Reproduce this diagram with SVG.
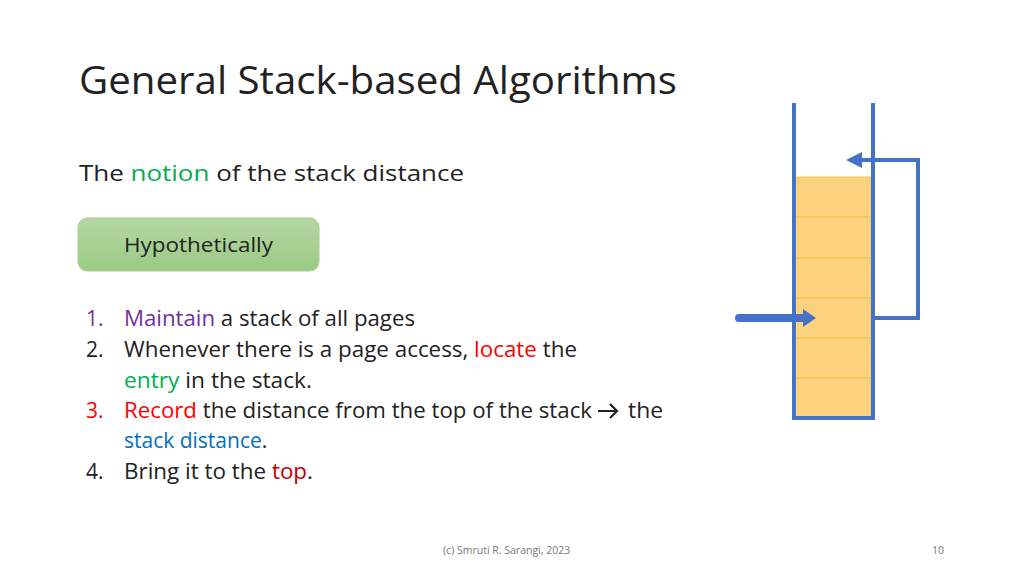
<svg xmlns="http://www.w3.org/2000/svg" width="1024" height="576" viewBox="0 0 1024 576">
<style>
text{font-family:"Open Sans","Liberation Sans",Arial,sans-serif;fill:#222}
.b{font-size:21px}
.wall{stroke:#4472C4;stroke-width:4;fill:none}
.blk{fill:#FDD27E;stroke:#F5C04A;stroke-width:1}
</style>
<defs>
<linearGradient id="g" x1="0" y1="0" x2="0" y2="1"><stop offset="0" stop-color="#B5D7A3"/><stop offset="1" stop-color="#9ACB83"/></linearGradient>
<marker id="ah" markerWidth="4" markerHeight="4" refX="3" refY="2" orient="auto" markerUnits="strokeWidth"><path d="M0,0 L4,2 L0,4 z" fill="#4472C4"/></marker>
</defs>
<rect width="1024" height="576" fill="#fff"/>
<text x="79" y="94" font-size="38" textLength="598" lengthAdjust="spacingAndGlyphs">General Stack-based Algorithms</text>
<text x="79" y="181" class="b" textLength="385" lengthAdjust="spacingAndGlyphs">The <tspan style="fill:#00B050">notion</tspan> of the stack distance</text>
<g id="hypo"><rect x="78" y="218" width="241" height="53" rx="9" fill="url(#g)" stroke="#A8D08D"/>
<text x="124" y="252" font-size="20" textLength="149" lengthAdjust="spacingAndGlyphs">Hypothetically</text></g>
<g class="b">
<text x="86" y="326" style="fill:#7030A0">1.</text><text x="124" y="326" textLength="291" lengthAdjust="spacingAndGlyphs"><tspan style="fill:#7030A0">Maintain</tspan> a stack of all pages</text>
<text x="86" y="357">2.</text><text x="124" y="357" textLength="453" lengthAdjust="spacingAndGlyphs">Whenever there is a page access, <tspan style="fill:#FF0000">locate</tspan> the</text>
<text x="124" y="388" textLength="188" lengthAdjust="spacingAndGlyphs"><tspan style="fill:#00B050">entry</tspan> in the stack.</text>
<text x="86" y="418" style="fill:#FF0000">3.</text><text x="124" y="418" textLength="468" lengthAdjust="spacingAndGlyphs"><tspan style="fill:#FF0000">Record</tspan> the distance from the top of the stack</text>
<text x="628" y="418" textLength="35" lengthAdjust="spacingAndGlyphs">the</text>
<path d="M598,411 h18 M610,404 l7,7 l-7,7" stroke="#222" stroke-width="2.2" fill="none"/>
<text x="124" y="448"><tspan style="fill:#0070C0">stack distance</tspan>.</text>
<text x="86" y="479">4.</text><text x="124" y="479" textLength="189" lengthAdjust="spacingAndGlyphs">Bring it to the <tspan style="fill:#C00000">top</tspan>.</text>
</g>
<g id="stack">
<rect class="blk" x="797" y="177" width="74" height="40"/>
<rect class="blk" x="797" y="217" width="74" height="41"/>
<rect class="blk" x="797" y="258" width="74" height="40"/>
<rect class="blk" x="797" y="298" width="74" height="40"/>
<rect class="blk" x="797" y="338" width="74" height="40"/>
<rect class="blk" x="797" y="378" width="74" height="40"/>
<path class="wall" d="M794,103 V418 H873 V103"/>
</g>
<g id="connectors">
<path class="wall" d="M873,318 H918 V160 H850" stroke-width="3.5" marker-end="url(#ah)"/>
<path d="M739,318 H804" stroke="#4472C4" stroke-width="8" stroke-linecap="round"/>
<polygon points="803,309 816,318 803,327" fill="#4472C4"/>
</g>
<text x="443" y="554" font-size="10.5" style="fill:#777">(c) Smruti R. Sarangi, 2023</text>
<text x="932" y="554" font-size="10.5" style="fill:#777">10</text>
</svg>
